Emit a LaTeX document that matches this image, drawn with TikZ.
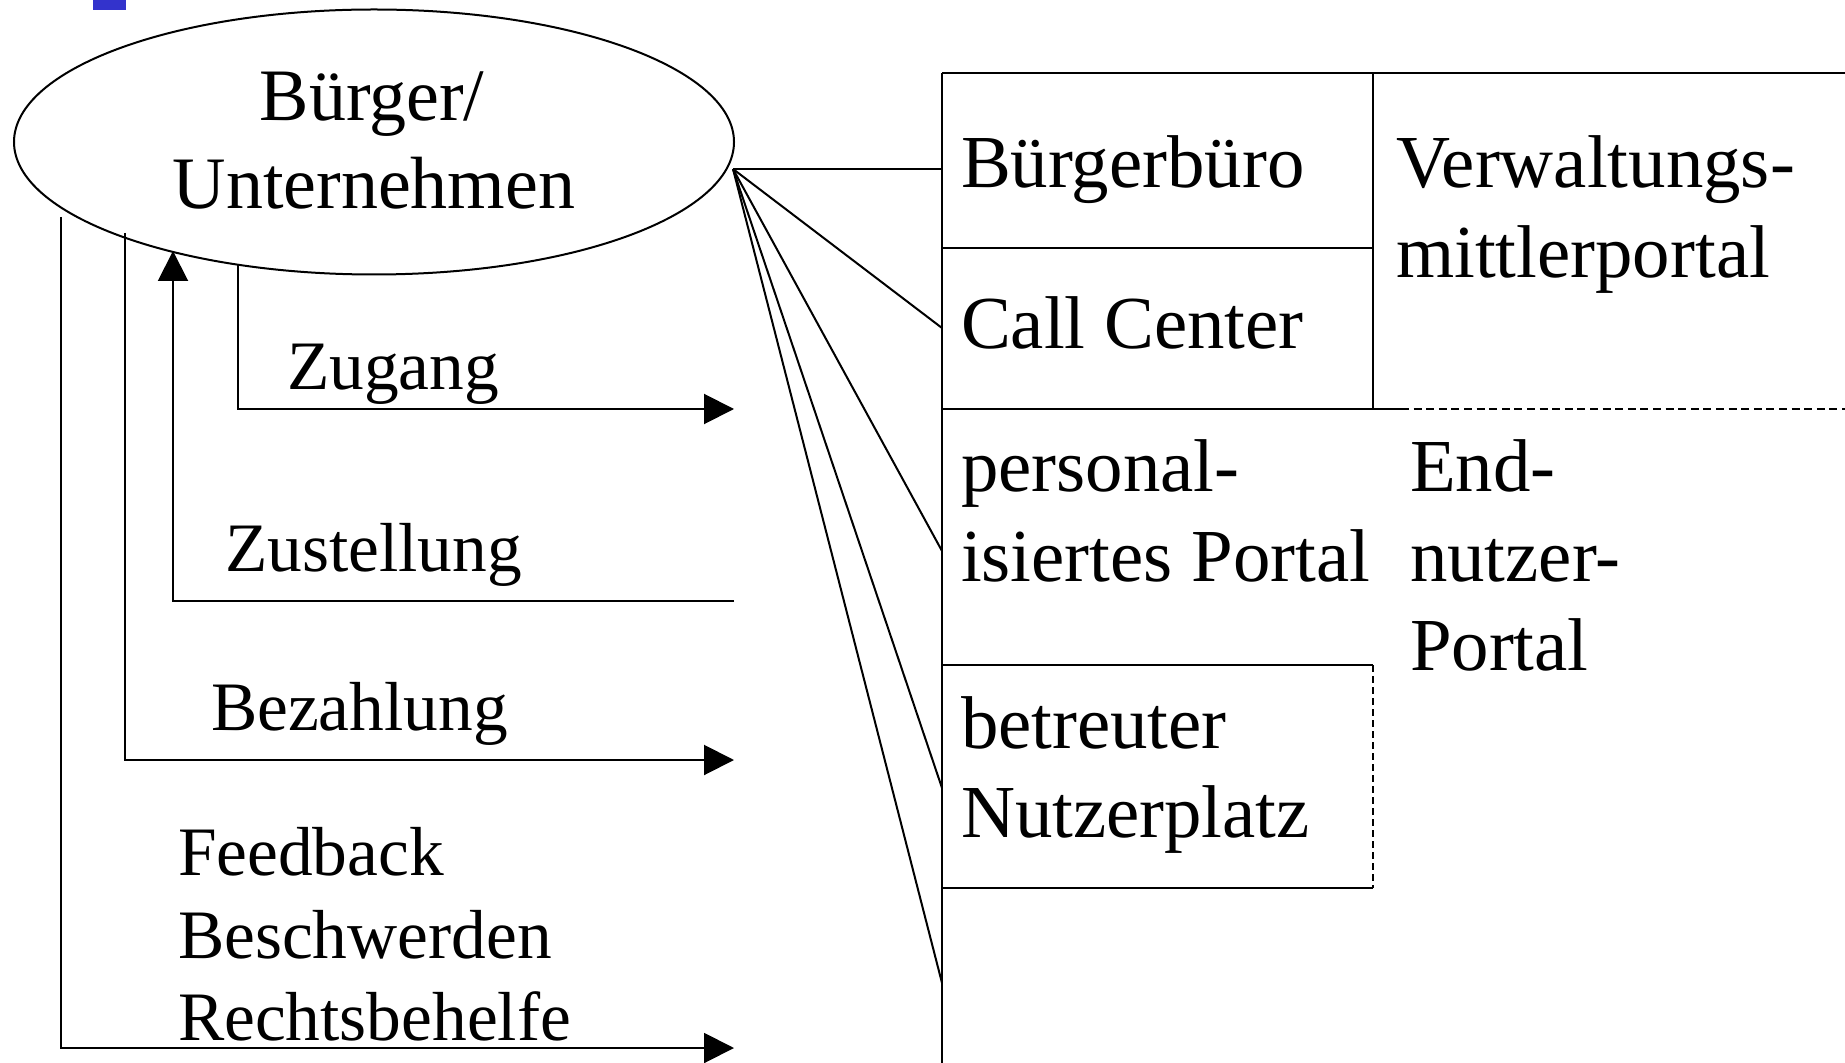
\documentclass[tikz,border=0pt]{standalone}
\usepackage{fontspec}
\setmainfont{Liberation Serif}
\usetikzlibrary{arrows.meta,shapes.geometric}
\definecolor{sqblue}{HTML}{3333CC}
\begin{document}
\begin{tikzpicture}[x=0.5pt,y=-0.5pt, line width=1pt,
  lbl/.style={inner sep=0pt, anchor=base west, font=\fontsize{34.7}{40}\selectfont},
  rlbl/.style={inner sep=0pt, anchor=base west, font=\fontsize{37.4}{44}\selectfont},
  elbl/.style={inner sep=0pt, anchor=base, font=\fontsize{37}{44}\selectfont},
  arr/.style={-{Triangle[length=15pt,width=15pt]}},
  dsh/.style={dash pattern=on 4pt off 2.3pt},
  vdsh/.style={dash pattern=on 3.5pt off 2pt}]
\useasboundingbox (0,0) rectangle (1845,1063);
% blue marker
\fill[sqblue] (93,0) rectangle (126,10);
% ellipse
\node[draw, ellipse, minimum width=360pt, minimum height=132.5pt, inner sep=0pt] (bu) at (374,142) {};
\node[elbl] (t1) at (372,121) {Bürger/};
\node[elbl] (t2) at (374,209) {Unternehmen};
% left labels
\node[lbl] (zug) at (286,390) {Zugang};
\node[lbl] (zus) at (224,571) {Zustellung};
\node[lbl] (bez) at (210,730) {Bezahlung};
\node[lbl] (fb1) at (177,875) {Feedback};
\node[lbl] (fb2) at (177,958) {Beschwerden};
\node[lbl] (fb3) at (177,1040) {Rechtsbehelfe};
% left connectors
\coordinate (zgS) at (238,265); \coordinate (zgE) at (734,409);
\coordinate (zsS) at (734,601); \coordinate (zsE) at (173,251);
\coordinate (bzS) at (125,233); \coordinate (bzE) at (734,760);
\coordinate (fbS) at (61,217);  \coordinate (fbE) at (734,1048);
\draw[arr] (zgS) |- (zgE);
\draw[arr] (zsS) -| (zsE);
\draw[arr] (bzS) |- (bzE);
\draw[arr] (fbS) |- (fbE);
% right frame
\coordinate (tl) at (942,73); \coordinate (tr) at (1845,73);
\coordinate (bl) at (942,1063);
\coordinate (cdT) at (1373,73); \coordinate (cdB) at (1373,409);
\coordinate (h1L) at (942,248); \coordinate (h1R) at (1373,248);
\coordinate (h2L) at (942,409); \coordinate (h2M) at (1401,409); \coordinate (h2R) at (1845,409);
\coordinate (nbTL) at (942,665); \coordinate (nbTR) at (1373,665);
\coordinate (nbBL) at (942,888); \coordinate (nbBR) at (1373,888);
\draw (tl) -- (bl);
\draw (tl) -- (tr);
\draw (cdT) -- (cdB);
\draw (h1L) -- (h1R);
\draw (h2L) -- (h2M);
\draw[dsh] (h2M) -- (h2R);
\draw (nbTL) -- (nbTR);
\draw[vdsh] (nbTR) -- (nbBR);
\draw (nbBR) -- (nbBL);
% right labels
\node[rlbl] (bb) at (960,188) {Bürgerbüro};
\node[rlbl] (cc) at (960,349) {Call Center};
\node[rlbl] (pp1) at (960,491) {personal-};
\node[rlbl] (pp2) at (960,581) {isiertes Portal};
\node[rlbl] (nb1) at (960,748) {betreuter};
\node[rlbl] (nb2) at (960,837) {Nutzerplatz};
\node[rlbl] (vm1) at (1395,188) {Verwaltungs-};
\node[rlbl] (vm2) at (1395,278) {mittlerportal};
\node[rlbl] (en1) at (1409,491) {End-};
\node[rlbl] (en2) at (1409,581) {nutzer-};
\node[rlbl] (en3) at (1409,670) {Portal};
% fan
\coordinate (fan) at (733,169);
\coordinate (f1) at (942,169);
\coordinate (f2) at (942,328);
\coordinate (f3) at (942,551);
\coordinate (f4) at (942,788);
\coordinate (f5) at (942,983);
\foreach \e in {f1,f2,f3,f4,f5} \draw (fan) -- (\e);
\end{tikzpicture}
\end{document}
